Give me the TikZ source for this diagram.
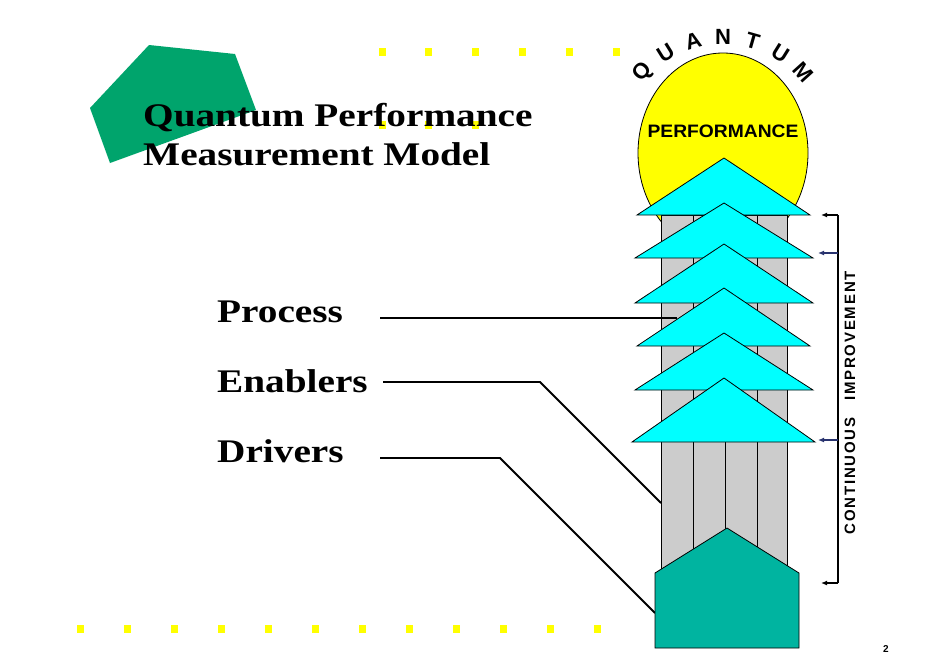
\documentclass[tikz,border=0pt]{standalone}
\usepackage{fontspec}
\setmainfont{Liberation Serif}
\newfontfamily\sansb{Liberation Sans}
\newfontfamily\sansls[LetterSpace=12]{Liberation Sans}
\usetikzlibrary{arrows.meta,shapes.geometric}
\definecolor{dkgreen}{RGB}{0,164,108}
\definecolor{dotYellow}{RGB}{255,255,0}
\definecolor{sunYellow}{RGB}{255,255,0}
\definecolor{triCyan}{RGB}{0,255,255}
\definecolor{colGray}{RGB}{204,204,204}
\definecolor{tealc}{RGB}{0,180,160}
\definecolor{navyArrow}{RGB}{40,50,110}
\definecolor{headBlue}{RGB}{90,105,170}
\begin{document}
\begin{tikzpicture}[x=1pt,y=-1pt,
  outl/.style={draw=black,line width=0.8pt},
  tri/.style={outl,fill=triCyan},
  col/.style={outl,fill=colGray},
  conn/.style={line width=1.8pt,black},
  lbl/.style={anchor=base west,inner sep=0pt,font=\bfseries\fontsize{33}{38}\selectfont},
  qletter/.style={font=\sansb\bfseries\fontsize{22}{22}\selectfont,inner sep=0pt},
  bar/.style={line width=1.2pt},
  brk/.style={line width=1.2pt,-{Latex[length=6pt,width=5pt]}},
  brkb/.style={line width=1.6pt,navyArrow,-{Latex[length=6pt,width=5pt,fill=headBlue]}}]
\useasboundingbox (0,0) rectangle (950,667);
\fill[white] (0,0) rectangle (950,667);

% green shape
\fill[dkgreen] (149,45) -- (235,54) -- (256,110) -- (110,163) -- (90,108) -- cycle;

% yellow dots
\foreach \x in {382,428,475,522,569,616} \fill[dotYellow] (\x-3.5,48) rectangle ++(7,8);
\foreach \x in {382,428,475} \fill[dotYellow] (\x-3.5,121) rectangle ++(7,8);
\foreach \i in {0,...,11} \fill[dotYellow] ({80+47*\i-3.5},625) rectangle ++(7,8);

% title
\node[lbl] (t1) at (143,126) {\scalebox{1.19}[1]{Quantum Performance}};
\node[lbl] (t2) at (143,165) {\scalebox{1.19}[1]{Measurement Model}};

% sun
\node[ellipse,draw=black,line width=0.8pt,fill=sunYellow,minimum width=170pt,minimum height=200pt,inner sep=0pt] (sun) at (723,153) {};
\node[font=\sansb\bfseries\fontsize{18}{18}\selectfont,inner sep=0pt] (perf) at (723,131) {\scalebox{1.07}[1]{PERFORMANCE}};

% QUANTUM arc (centre 723,145; radius 108; angles measured upward)
\foreach \ch/\ang [count=\k] in {Q/138,U/122,A/106,N/90,T/74,U/58,M/42}
  \node[qletter,rotate=\ang-90] (q\k) at ({723+108*cos(\ang)},{145-108*sin(\ang)}) {\ch};

% columns
\foreach \a/\b in {661/693,693/725,725/757,757/787}
  \draw[col] (\a,215) rectangle (\b,600);

% connectors
\node[lbl] (proc) at (217,322) {\scalebox{1.19}[1]{Process}};
\node[lbl] (enab) at (217,392) {\scalebox{1.19}[1]{Enablers}};
\node[lbl] (driv) at (217,462) {\scalebox{1.19}[1]{Drivers}};
\coordinate (ps) at (380,318); \coordinate (pe) at (677,318);
\coordinate (es) at (383,382); \coordinate (eb) at (540,382); \coordinate (ee) at (661,503);
\coordinate (ds) at (380,458); \coordinate (db) at (500,458); \coordinate (de) at (655,613);
\draw[conn] (ps) -- (pe);
\draw[conn] (es) -- (eb) -- (ee);
\draw[conn] (ds) -- (db) -- (de);

% triangles
\foreach \ay/\by/\l/\r in {158/215/637/810,203/258/635/813,244/303/635/813,288/346/637/810,333/390/635/813,378/442/632/815}
  \draw[tri] (724,\ay) -- (\r,\by) -- (\l,\by) -- cycle;

% pentagon
\draw[outl,fill=tealc] (655,573) -- (727,528) -- (799,573) -- (799,648) -- (655,648) -- cycle;

% continuous improvement bracket
\coordinate (b1) at (838,215); \coordinate (b2) at (838,253);
\coordinate (b3) at (838,440); \coordinate (b4) at (838,583);
\coordinate (a1) at (821,215); \coordinate (a2) at (818,253);
\coordinate (a3) at (818,440); \coordinate (a4) at (821,583);
\draw[bar] (b1) -- (b4);
\draw[brk] (b1) -- (a1);
\draw[brkb] (b2) -- (a2);
\draw[brkb] (b3) -- (a3);
\draw[brk] (b4) -- (a4);
\node[rotate=90,inner sep=0pt,font=\sansls\bfseries\fontsize{15}{15}\selectfont] (cont) at (850,476) {CONTINUOUS};
\node[rotate=90,inner sep=0pt,font=\sansls\bfseries\fontsize{15}{15}\selectfont] (impr) at (850,336) {IMPROVEMENT};

% page number
\node[font=\sansb\bfseries\fontsize{10}{10}\selectfont,inner sep=0pt] (pg) at (886,649) {2};
\end{tikzpicture}
\end{document}
